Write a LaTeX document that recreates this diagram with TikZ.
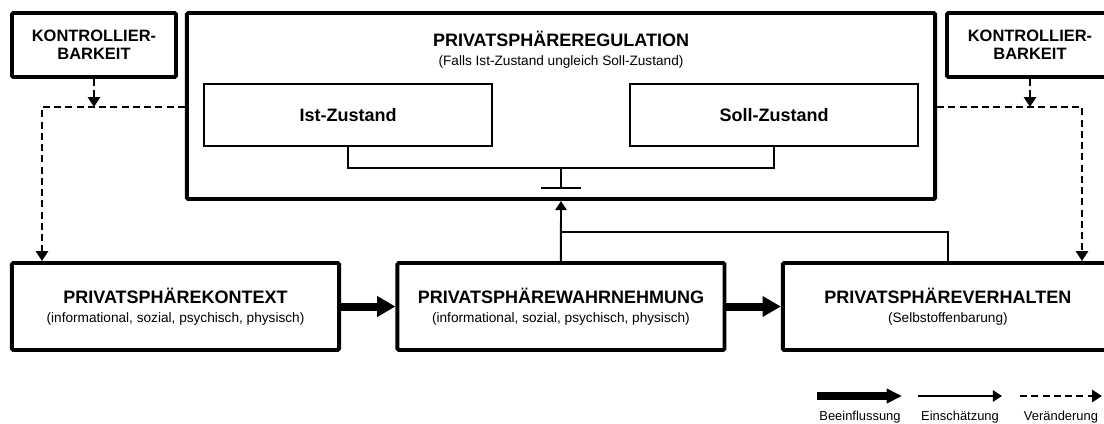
\documentclass[tikz,border=0pt]{standalone}
\usepackage{fontspec}
\setmainfont{Liberation Sans}
\usepackage{tikz}
\usetikzlibrary{arrows.meta,positioning}
\newcommand{\headfont}{\fontsize{12.8pt}{13.5pt}\selectfont\bfseries}
\newcommand{\ctrlfont}{\fontsize{11.7pt}{12.8pt}\selectfont\bfseries}
\newcommand{\subtextfont}{\fontsize{9.7pt}{13.5pt}\selectfont\mdseries}
\newcommand{\legendfont}{\fontsize{9.2pt}{11pt}\selectfont}

\begin{document}
\begin{tikzpicture}[x=0.025cm,y=-0.025cm,node distance=1.36cm,
    box/.style={draw,line width=2.8pt,rounded corners=1pt,align=center,font=\headfont,inner sep=0pt},
    statebox/.style={draw,line width=1pt,inner sep=0pt,font=\headfont,minimum width=7.2cm,minimum height=1.55cm},
    influence/.style={-{Triangle[length=13pt,width=14pt]},line width=5.7pt},
    assess/.style={-{Triangle[length=6.5pt,width=8pt]},line width=1.4pt},
    feed/.style={line width=1.4pt},
    change/.style={-{Triangle[length=7pt,width=8.5pt]},line width=1.8pt,dash pattern=on 5pt off 3pt},
    link/.style={line width=0.9pt}]
    \useasboundingbox (0,0) rectangle (1104,423);
    \clip (0,0) rectangle (1104,423);
    \node[box,font=\ctrlfont,minimum width=4.1cm,minimum height=1.6cm] (kleft) at (94,45) {KONTROLLIER-\\BARKEIT};
    \node[box,font=\ctrlfont,minimum width=4.15cm,minimum height=1.6cm] (kright) at (1030,45) {KONTROLLIER-\\BARKEIT};
    \node[box,minimum width=18.7cm,minimum height=4.65cm] (reg) at (561,106) {};
    \node[align=center,font=\headfont] (regtext) at (561,50) {PRIVATSPHÄREREGULATION\\{\subtextfont (Falls Ist-Zustand ungleich Soll-Zustand)}};
    \node[statebox] (ist) at (348,115) {Ist-Zustand};
    \node[statebox] (soll) at (774,115) {Soll-Zustand};
    \node[box,minimum width=8.175cm,minimum height=2.175cm] (kontext) at (175.5,306.5) {PRIVATSPHÄREKONTEXT\\{\subtextfont (informational, sozial, psychisch, physisch)}};
    \node[box,minimum width=8.175cm,minimum height=2.175cm,right=of kontext] (wahr) {PRIVATSPHÄREWAHRNEHMUNG\\{\subtextfont (informational, sozial, psychisch, physisch)}};
    \node[box,minimum width=8.25cm,minimum height=2.175cm,right=of wahr] (verh) {PRIVATSPHÄREVERHALTEN\\{\subtextfont (Selbstoffenbarung)}};

    \coordinate (tee) at (561,168);
    \coordinate (teefoot) at (561,188);
    \draw[link] (ist.south) |- (tee) -| (soll.south);
    \draw[link] (tee) -- (teefoot) +(-20,0) -- +(20,0);

    \draw[influence] (kontext) -- (wahr);
    \draw[influence] (wahr) -- (verh);
    \coordinate (merge) at (561,232);
    \draw[assess] (wahr.north) -- (reg.south);
    \draw[feed] (verh.north) |- (merge);

    \coordinate (lhook) at (42,107);
    \coordinate (rhook) at (1082,107);
    \draw[change] (kleft.south) -- (kleft.south |- lhook);
    \draw[change] (reg.west |- lhook) -- (lhook) -- (lhook |- kontext.north);
    \draw[change] (kright.south) -- (kright.south |- rhook);
    \draw[change] (reg.east |- rhook) -- (rhook) -- (rhook |- verh.north);

    \coordinate (inflA) at (817,396);
    \coordinate (inflB) at (902,396);
    \coordinate (assA) at (918,396);
    \coordinate (assB) at (1002,396);
    \coordinate (chgA) at (1020,396);
    \coordinate (chgB) at (1102,396);
    \draw[influence,line width=5pt,-{Triangle[length=11pt,width=10pt]}] (inflA) -- (inflB);
    \draw[assess] (assA) -- (assB);
    \draw[change] (chgA) -- (chgB);
    \node[font=\legendfont] (lginfl) at (860,417) {Beeinflussung};
    \node[font=\legendfont] (lgass) at (960,417) {Einschätzung};
    \node[font=\legendfont] (lgchg) at (1061,417) {Veränderung};
\end{tikzpicture}
\end{document}
